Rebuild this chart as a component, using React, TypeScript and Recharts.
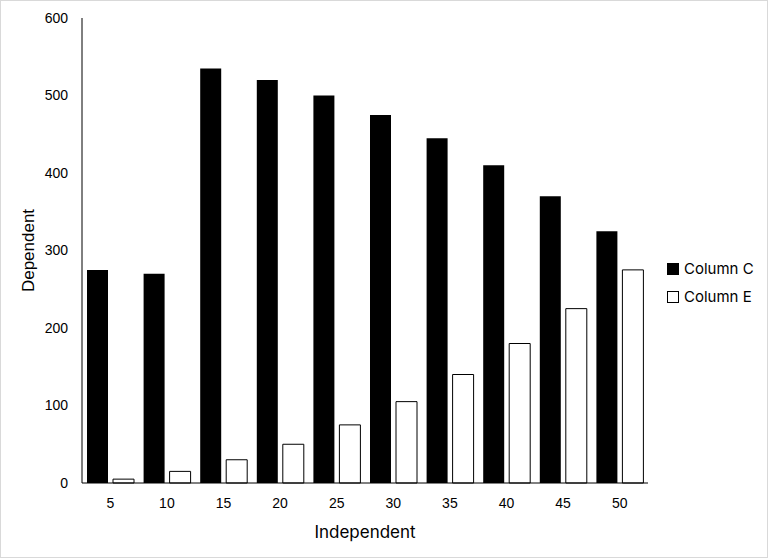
import React from "react";
import { BarChart, Bar, XAxis, YAxis } from "recharts";

const independent = [5, 10, 15, 20, 25, 30, 35, 40, 45, 50];
const columnC = [275, 270, 535, 520, 500, 475, 445, 410, 370, 325];
const columnE = [5, 15, 30, 50, 75, 105, 140, 180, 225, 275];
const yTicks = [0, 100, 200, 300, 400, 500, 600];

const data = independent.map((x, i) => ({
  x,
  c: columnC[i],
  e: columnE[i],
}));

const tickStyle = { fill: "#000", fontSize: 14, fontFamily: "'Liberation Sans', Arial, sans-serif" };

export default function App() {
  return (
    <div
      style={{
        position: "absolute",
        left: 0,
        top: 0,
        width: 768,
        height: 558,
        border: "1px solid #d9d9d9",
        boxSizing: "border-box",
        background: "#fff",
      }}
    >
      <div style={{ position: "absolute", left: -1, top: -1 }}>
        <BarChart
          width={768}
          height={558}
          data={data}
          margin={{ top: 18, right: 120, bottom: 0, left: 0 }}
          barCategoryGap={5}
          barGap={5}
        >
          <XAxis
            dataKey="x"
            height={75}
            tickLine={false}
            tickMargin={9}
            axisLine={{ stroke: "#000" }}
            tick={tickStyle}
            label={{
              value: "Independent",
              position: "insideBottom",
              offset: 20,
              style: { fill: "#000", fontSize: 17, fontFamily: "Inter, sans-serif" },
            }}
          />
          <YAxis
            width={82}
            domain={[0, 600]}
            ticks={yTicks}
            tickLine={false}
            tickMargin={8}
            axisLine={{ stroke: "#000" }}
            tick={tickStyle}
            label={{
              value: "Dependent",
              angle: -90,
              position: "insideLeft",
              offset: 28,
              style: {
                fill: "#000",
                fontSize: 17,
                fontFamily: "'Liberation Sans', Arial, sans-serif",
                textAnchor: "middle",
              },
            }}
          />
          <Bar dataKey="c" name="Column C" fill="#000" isAnimationActive={false} />
          <Bar
            dataKey="e"
            name="Column E"
            fill="#fff"
            stroke="#000"
            strokeWidth={1}
            isAnimationActive={false}
          />
        </BarChart>
      </div>
      <div
        style={{
          position: "absolute",
          left: 666,
          top: 254,
          fontFamily: "Inter, sans-serif",
          fontSize: 15,
          color: "#000",
          lineHeight: "28px",
        }}
      >
        {[
          { label: "Column C", fill: "#000" },
          { label: "Column E", fill: "#fff" },
        ].map((item) => (
          <div key={item.label} style={{ display: "flex", alignItems: "center" }}>
            <span
              style={{
                display: "inline-block",
                width: 10,
                height: 10,
                background: item.fill,
                border: "1px solid #000",
                marginRight: 5,
              }}
            />
            {item.label}
          </div>
        ))}
      </div>
    </div>
  );
}
